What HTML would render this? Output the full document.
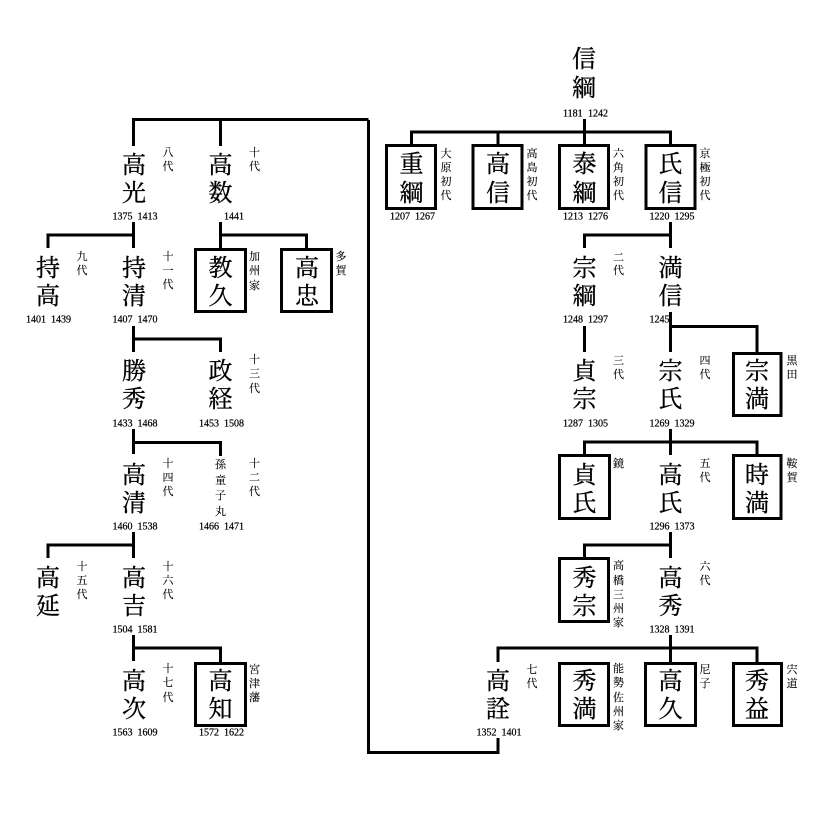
<!DOCTYPE html>
<html><head><meta charset="utf-8"><style>
html,body{margin:0;padding:0;background:#fff}
svg{display:block}
text{font-family:"Noto Serif CJK JP","Noto Serif CJK SC","Liberation Serif",serif;text-anchor:middle;dominant-baseline:central;fill:#000}
.n text{font-size:24px;stroke:#000;stroke-width:.35px}
.s text{font-size:11px;fill:#000;stroke:#000;stroke-width:.12px}
.d text{font-family:"Liberation Serif",serif;font-size:10px;text-anchor:start;stroke:#000;stroke-width:.25px}
</style></head><body>
<svg xmlns="http://www.w3.org/2000/svg" width="821" height="815" viewBox="0 0 821 815">
<rect width="821" height="815" fill="#fff"/>
<g fill="none" stroke="#000" stroke-width="3">
<path d="M584.5 119V144M411.5 144V132H670.5V144M498 132V144"/>
<path d="M133.5 146V119.5H368.5M220.5 120V146"/>
<path d="M368.5 120V752.5H498M498 754V738"/>
<path d="M133.5 222V248M48 248V235H133.5"/>
<path d="M220.5 222V248M220.5 235H306.5V248"/>
<path d="M133.5 326V352M133.5 339H220.5V352"/>
<path d="M133.5 429V454M133.5 442.5H220.5V456"/>
<path d="M133.5 532V558M48 558V545H133.5"/>
<path d="M133.5 635V661M133.5 648H220.5V662"/>
<path d="M670.5 222V248M584.5 248V235H670.5"/>
<path d="M584.5 326V352"/>
<path d="M670.5 312V352M670.5 326.5H757V352"/>
<path d="M670.5 429V455M584.5 455V442H757V455"/>
<path d="M670.5 532V558M584.5 558V545H670.5"/>
<path d="M670.5 635V662M498 662V648H757V662"/>
<rect x="386.5" y="145.5" width="49" height="63"/>
<rect x="473" y="145.5" width="49" height="63"/>
<rect x="559.5" y="145.5" width="49" height="63"/>
<rect x="646" y="145.5" width="49" height="63"/>
<rect x="195.5" y="249.5" width="50" height="62"/>
<rect x="281.5" y="249.5" width="50" height="62"/>
<rect x="195.5" y="663.5" width="50" height="62"/>
<rect x="733.5" y="353.5" width="47.5" height="62"/>
<rect x="559.5" y="455.5" width="50" height="63"/>
<rect x="733.5" y="455.5" width="47.5" height="63"/>
<rect x="559.5" y="558.5" width="49" height="63"/>
<rect x="559.5" y="663.5" width="49" height="62"/>
<rect x="645.5" y="663.5" width="50" height="62"/>
<rect x="733.5" y="663.5" width="48" height="62"/>
</g>
<g class="n" transform="translate(0,-1.5)">
<text x="584" y="58">信</text><text x="584" y="87">綱</text>
<text x="411.5" y="163">重</text><text x="411.5" y="192">綱</text>
<text x="498" y="163">高</text><text x="498" y="192">信</text>
<text x="584.5" y="163">泰</text><text x="584.5" y="192">綱</text>
<text x="670.5" y="163">氏</text><text x="670.5" y="192">信</text>
<text x="134" y="164">高</text><text x="134" y="192">光</text>
<text x="220.5" y="164">高</text><text x="220.5" y="192">数</text>
<text x="48" y="267">持</text><text x="48" y="295">高</text>
<text x="134" y="267">持</text><text x="134" y="295">清</text>
<text x="220.5" y="267">教</text><text x="220.5" y="295">久</text>
<text x="307" y="267">高</text><text x="307" y="295">忠</text>
<text x="134" y="370">勝</text><text x="134" y="398">秀</text>
<text x="220.5" y="370">政</text><text x="220.5" y="398">経</text>
<text x="134" y="474">高</text><text x="134" y="502">清</text>
<text x="48" y="577">高</text><text x="48" y="605">延</text>
<text x="134" y="577">高</text><text x="134" y="605">吉</text>
<text x="134" y="680">高</text><text x="134" y="708">次</text>
<text x="220.5" y="680">高</text><text x="220.5" y="708">知</text>
<text x="584.5" y="267">宗</text><text x="584.5" y="295">綱</text>
<text x="670.5" y="267">満</text><text x="670.5" y="295">信</text>
<text x="584.5" y="370">貞</text><text x="584.5" y="398">宗</text>
<text x="670.5" y="370">宗</text><text x="670.5" y="398">氏</text>
<text x="757" y="370">宗</text><text x="757" y="398">満</text>
<text x="584.5" y="474">貞</text><text x="584.5" y="502">氏</text>
<text x="670.5" y="474">高</text><text x="670.5" y="502">氏</text>
<text x="757" y="474">時</text><text x="757" y="502">満</text>
<text x="584.5" y="577">秀</text><text x="584.5" y="605">宗</text>
<text x="670.5" y="577">高</text><text x="670.5" y="605">秀</text>
<text x="498" y="680">高</text><text x="498" y="708">詮</text>
<text x="584.5" y="680">秀</text><text x="584.5" y="708">満</text>
<text x="670.5" y="680">高</text><text x="670.5" y="708">久</text>
<text x="757" y="680">秀</text><text x="757" y="708">益</text>
</g>
<g class="s">
<text x="446" y="153">大</text><text x="446" y="167">原</text><text x="446" y="181">初</text><text x="446" y="195">代</text>
<text x="532" y="153">高</text><text x="532" y="167">島</text><text x="532" y="181">初</text><text x="532" y="195">代</text>
<text x="618.5" y="153">六</text><text x="618.5" y="167">角</text><text x="618.5" y="181">初</text><text x="618.5" y="195">代</text>
<text x="705" y="153">京</text><text x="705" y="167">極</text><text x="705" y="181">初</text><text x="705" y="195">代</text>
<text x="168" y="152">八</text><text x="168" y="166">代</text>
<text x="254.5" y="152">十</text><text x="254.5" y="166">代</text>
<text x="82" y="256">九</text><text x="82" y="270">代</text>
<text x="168" y="256">十</text><text x="168" y="270">一</text><text x="168" y="284">代</text>
<text x="254.5" y="256">加</text><text x="254.5" y="270">州</text><text x="254.5" y="285">家</text>
<text x="341" y="256">多</text><text x="341" y="270">賀</text>
<text x="254.5" y="359">十</text><text x="254.5" y="373">三</text><text x="254.5" y="388">代</text>
<text x="168" y="463">十</text><text x="168" y="477">四</text><text x="168" y="491">代</text>
<text x="254.5" y="463">十</text><text x="254.5" y="477">二</text><text x="254.5" y="491">代</text>
<text x="220.5" y="464">孫</text><text x="220.5" y="480">童</text><text x="220.5" y="495">子</text><text x="220.5" y="511">丸</text>
<text x="82" y="566">十</text><text x="82" y="580">五</text><text x="82" y="594">代</text>
<text x="168" y="566">十</text><text x="168" y="580">六</text><text x="168" y="594">代</text>
<text x="168" y="668">十</text><text x="168" y="682">七</text><text x="168" y="697">代</text>
<text x="254.5" y="669">宮</text><text x="254.5" y="683">津</text><text x="254.5" y="697">藩</text>
<text x="618.5" y="257">二</text><text x="618.5" y="270">代</text>
<text x="618.5" y="360">三</text><text x="618.5" y="374">代</text>
<text x="705" y="360">四</text><text x="705" y="374">代</text>
<text x="792" y="360">黒</text><text x="792" y="374">田</text>
<text x="618.5" y="463">鏡</text>
<text x="705" y="463">五</text><text x="705" y="477">代</text>
<text x="792" y="463">鞍</text><text x="792" y="477">賀</text>
<text x="618.5" y="565">高</text><text x="618.5" y="580">橋</text><text x="618.5" y="594">三</text><text x="618.5" y="608">州</text><text x="618.5" y="622">家</text>
<text x="705" y="566">六</text><text x="705" y="580">代</text>
<text x="532" y="669">七</text><text x="532" y="683">代</text>
<text x="618.5" y="668">能</text><text x="618.5" y="682">勢</text><text x="618.5" y="697">佐</text><text x="618.5" y="711">州</text><text x="618.5" y="725">家</text>
<text x="705" y="669">尼</text><text x="705" y="683">子</text>
<text x="792" y="669">宍</text><text x="792" y="683">道</text>
</g>
<g class="d">
<text x="563" y="114">1181</text><text x="588" y="114">1242</text>
<text x="390" y="217">1207</text><text x="415" y="217">1267</text>
<text x="563" y="217">1213</text><text x="588" y="217">1276</text>
<text x="649.5" y="217">1220</text><text x="674.5" y="217">1295</text>
<text x="112.5" y="217">1375</text><text x="137.5" y="217">1413</text>
<text x="224" y="217">1441</text>
<text x="26" y="320">1401</text><text x="51" y="320">1439</text>
<text x="112.5" y="320">1407</text><text x="137.5" y="320">1470</text>
<text x="112.5" y="424">1433</text><text x="137.5" y="424">1468</text>
<text x="199" y="424">1453</text><text x="224" y="424">1508</text>
<text x="112.5" y="527">1460</text><text x="137.5" y="527">1538</text>
<text x="199" y="527">1466</text><text x="224" y="527">1471</text>
<text x="112.5" y="630">1504</text><text x="137.5" y="630">1581</text>
<text x="112.5" y="733">1563</text><text x="137.5" y="733">1609</text>
<text x="199" y="733">1572</text><text x="224" y="733">1622</text>
<text x="563" y="320">1248</text><text x="588" y="320">1297</text>
<text x="649.5" y="320">1245</text>
<text x="563" y="424">1287</text><text x="588" y="424">1305</text>
<text x="649.5" y="424">1269</text><text x="674.5" y="424">1329</text>
<text x="649.5" y="527">1296</text><text x="674.5" y="527">1373</text>
<text x="649.5" y="630">1328</text><text x="674.5" y="630">1391</text>
<text x="476.5" y="733">1352</text><text x="501.5" y="733">1401</text>
</g>
</svg>
</body></html>
